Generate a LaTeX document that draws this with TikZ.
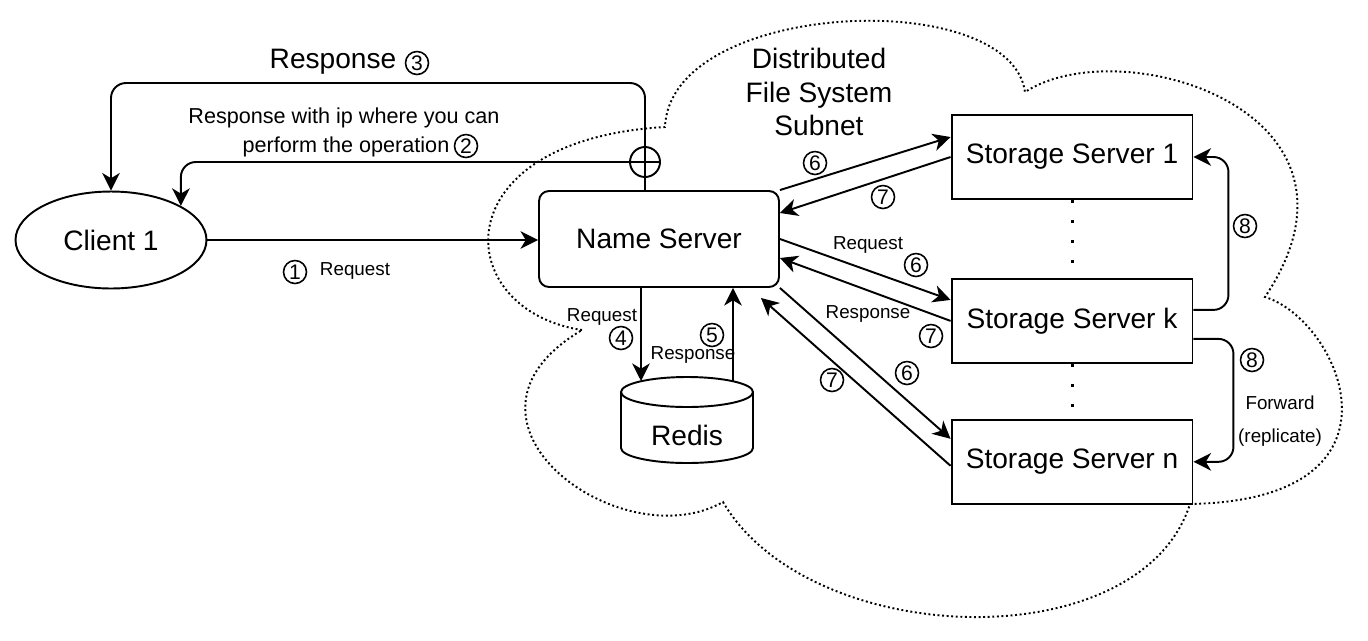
\documentclass[tikz,border=0pt]{standalone}
\usepackage{fontspec}
\setmainfont{Liberation Sans}
\usetikzlibrary{arrows.meta,positioning,shapes.geometric}

\begin{document}
\begin{tikzpicture}[x=0.02cm, y=-0.02cm, line width=1.1pt,
        arr/.style={-{Stealth[length=10pt,width=10pt,inset=3pt]}},
        big/.style={font=\fontsize{16}{19}\selectfont},
        mid/.style={font=\fontsize{12.3}{14.8}\selectfont},
        small/.style={font=\fontsize{10.7}{12.8}\selectfont},
        server/.style={draw, big, minimum width=4.82cm, minimum height=1.68cm},
        num/.style={draw, circle, line width=0.9pt, inner sep=0pt, minimum size=0.46cm, font=\fontsize{12}{12}\selectfont},
        cloudline/.style={dash pattern=on 1.1pt off 1.5pt},
        gap/.style={line width=1.7pt, dash pattern=on 1.7pt off 9.7pt}]
    \useasboundingbox (0,0) rectangle (1368,640);
    \draw[cloudline] (582,330) .. controls (450,310) and (440,140) .. (665,127)
        .. controls (670,0) and (1010,-15) .. (1025,92)
        .. controls (1120,30) and (1390,110) .. (1265,297)
        .. controls (1340,320) and (1420,500) .. (1190,504)
        .. controls (1140,660) and (810,650) .. (723,502)
        .. controls (620,560) and (430,420) .. (582,330);

    \node[draw, ellipse, big, minimum width=3.82cm, minimum height=1.94cm, inner sep=0pt] (client) at (111,240) {Client 1};
    \node[draw, rounded corners=0.2cm, big, minimum width=4.8cm, minimum height=1.92cm] (ns) at (659,239) {Name Server};
    \node[server] (ss1) at (1072,157) {Storage Server 1};
    \node[server, below=1.56cm of ss1] (ssk) {Storage Server k};
    \node[server, below=1.1cm of ssk] (ssn) {Storage Server n};
    \node[draw, circle, minimum size=0.6cm, inner sep=0pt] (junc) at (645,162) {};
    \coordinate (top) at (400,83);

    \draw (621,392) -- (621,448) arc[start angle=180, end angle=360, x radius=1.32cm, y radius=0.3cm] -- (753,392);
    \draw (687,392) ellipse [x radius=1.32cm, y radius=0.3cm];
    \node[big] (redis) at (687,435) {Redis};
    \coordinate (rq) at (641,381);
    \coordinate (rs) at (733,381);

    \draw[arr] (client.east) -- (client.east -| ns.west);
    \draw[arr, rounded corners=0.3cm] (ns.north -| junc) -- (junc |- top) -| (client.north);
    \draw[arr, rounded corners=0.3cm] (junc.east) -| (client.26);
    \draw[arr] (ns.south -| rq) -- (rq);
    \draw[arr] (rs) -- (ns.south -| rs);
    \draw[arr] (ns.north east) -- ([shift={(0,-20)}]ss1.west);
    \draw[arr] (ss1.west) -- ([shift={(0,-26)}]ns.east);
    \draw[arr] (ns.east) -- ([shift={(0,-21)}]ssk.west);
    \draw[arr] (ssk.west) -- ([shift={(0,19)}]ns.east);
    \draw[arr] (ns.south east) -- ([shift={(0,-23)}]ssn.west);
    \draw[arr] ([shift={(0,4)}]ssn.west) -- ([shift={(-19,10)}]ns.south east);
    \draw[arr, rounded corners=0.3cm] ([shift={(0,-11)}]ssk.east) -- ++(35,0) |- (ss1.east);
    \draw[arr, rounded corners=0.3cm] ([shift={(0,18)}]ssk.east) -- ++(40,0) |- (ssn.east);
    \draw[gap] (ss1.south) -- (ssk.north);
    \draw[gap] (ssk.south) -- (ssn.north);

    \node[big] (resp3) at (333,62) {Response};
    \node[num] (n3) at (417,63) {3};
    \node[mid] (resp2a) at (344,118) {Response with ip where you can};
    \node[mid] (resp2b) at (346,147) {perform the operation};
    \node[num] (n2) at (466,146) {2};
    \node[num] (n1) at (295,272) {1};
    \node[small] (req1) at (355,271) {Request};
    \node[small] (req4) at (602,317) {Request};
    \node[num] (n4) at (621,338) {4};
    \node[num] (n5) at (712,335) {5};
    \node[small] (resp5) at (693,355) {Response};
    \node[num] (n6a) at (815,163) {6};
    \node[num] (n7a) at (883,197) {7};
    \node[small] (req6) at (868,245) {Request};
    \node[num] (n6b) at (916,265) {6};
    \node[small] (resp7) at (868,314) {Response};
    \node[num] (n7b) at (931,336) {7};
    \node[num] (n7c) at (832,380) {7};
    \node[num] (n6c) at (907,373) {6};
    \node[num] (n8a) at (1245,226) {8};
    \node[num] (n8b) at (1252,360) {8};
    \node[small] (fwd) at (1280,403) {Forward};
    \node[small] (repl) at (1280,438) {(replicate)};
    \node[big, align=center] (subnet) at (819,92) {Distributed\\File System\\Subnet};
\end{tikzpicture}
\end{document}
